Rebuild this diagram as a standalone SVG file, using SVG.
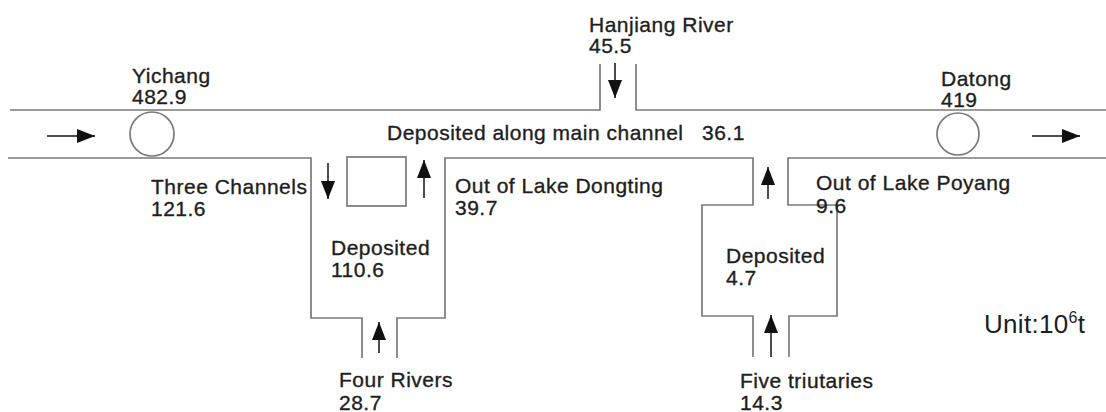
<svg xmlns="http://www.w3.org/2000/svg" width="1106" height="412" viewBox="0 0 1106 412">
<style>
.ch{fill:none;stroke:#7a7a7a;stroke-width:1.7}
.ar{fill:none;stroke:#111;stroke-width:1.5}
.t{font-family:"Liberation Sans",Arial,sans-serif;font-size:21px;letter-spacing:0.5px;fill:#1e1e1e;stroke:#1e1e1e;stroke-width:0.35}
.u{font-family:"Liberation Sans",Arial,sans-serif;font-size:26px;letter-spacing:0.3px;fill:#1e1e1e}
</style>
<defs>
<marker id="ah" markerUnits="userSpaceOnUse" markerWidth="19" markerHeight="15" refX="18" refY="7" orient="auto">
<path d="M0,0 L18,7 L0,14 Z" fill="#111"/>
</marker>
</defs>
<rect width="1106" height="412" fill="#fff"/>
<g id="channel">
<polyline class="ch" points="10,110 600,110 600,64"/>
<polyline class="ch" points="636,64 636,110 1106,110"/>
<polyline class="ch" points="8,158 311,158 311,318 362,318 362,358"/>
<polyline class="ch" points="397,358 397,318 445,318 445,158 753,158 753,205 702,205 702,316 753,316 753,357"/>
<polyline class="ch" points="789,357 789,316 837,316 837,205 788,205 788,158 1106,158"/>
</g>
<g id="yichang">
<circle cx="152" cy="134" r="22" class="ch"/>
<text class="t" x="132" y="83">Yichang</text>
<text class="t" x="132" y="104">482.9</text>
</g>
<g id="datong">
<circle cx="958" cy="134" r="21" class="ch"/>
<text class="t" x="941" y="86">Datong</text>
<text class="t" x="941" y="107">419</text>
</g>
<g id="hanjiang">
<text class="t" x="589" y="32">Hanjiang River</text>
<text class="t" x="589" y="53">45.5</text>
</g>
<g id="main-deposit">
<text class="t" x="387" y="140">Deposited along main channel</text>
<text class="t" x="702" y="140">36.1</text>
</g>
<g id="three-channels">
<text class="t" x="151" y="194">Three Channels</text>
<text class="t" x="151" y="216">121.6</text>
</g>
<g id="dongting-lake">
<rect x="347" y="157" width="59" height="49" class="ch"/>
</g>
<g id="out-dongting">
<text class="t" x="455" y="193">Out of Lake Dongting</text>
<text class="t" x="455" y="215">39.7</text>
</g>
<g id="deposited-left">
<text class="t" x="331" y="255">Deposited</text>
<text class="t" x="331" y="277">110.6</text>
</g>
<g id="four-rivers">
<text class="t" x="339" y="387">Four Rivers</text>
<text class="t" x="339" y="410">28.7</text>
</g>
<g id="out-poyang">
<text class="t" x="816" y="190">Out of Lake Poyang</text>
<text class="t" x="816" y="213">9.6</text>
</g>
<g id="deposited-right">
<text class="t" x="726" y="263">Deposited</text>
<text class="t" x="726" y="285">4.7</text>
</g>
<g id="five-tributaries">
<text class="t" x="740" y="388">Five triutaries</text>
<text class="t" x="740" y="410">14.3</text>
</g>
<g id="unit">
<text class="u" x="984" y="333">Unit:10<tspan font-size="16" dy="-10">6</tspan><tspan dy="10">t</tspan></text>
</g>
<g id="connectors">
<line class="ar" x1="47" y1="136" x2="95" y2="136" marker-end="url(#ah)"/>
<line class="ar" x1="1032" y1="136" x2="1080" y2="136" marker-end="url(#ah)"/>
<line class="ar" x1="615" y1="63" x2="615" y2="98" marker-end="url(#ah)"/>
<line class="ar" x1="328" y1="163" x2="328" y2="199" marker-end="url(#ah)"/>
<line class="ar" x1="424" y1="198" x2="424" y2="160" marker-end="url(#ah)"/>
<line class="ar" x1="379" y1="353" x2="379" y2="322" marker-end="url(#ah)"/>
<line class="ar" x1="768" y1="199" x2="768" y2="167" marker-end="url(#ah)"/>
<line class="ar" x1="771" y1="357" x2="771" y2="315" marker-end="url(#ah)"/>
</g>
</svg>
